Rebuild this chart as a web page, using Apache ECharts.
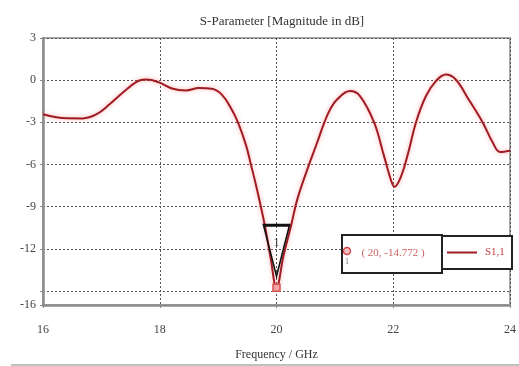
<!DOCTYPE html>
<html>
<head>
<meta charset="utf-8">
<script src="https://cdn.jsdelivr.net/npm/echarts@6/dist/echarts.min.js"></script>
<style>
html,body{margin:0;padding:0;background:#fff;}
#chart{width:519px;height:366px;}
</style>
</head>
<body>
<div id="chart"></div>
<script>
// ---- data ----
var TITLE = 'S-Parameter [Magnitude in dB]';
var X_NAME = 'Frequency / GHz';
var SERIES_NAME = 'S1,1';
var X_TICKS = [16, 18, 20, 22, 24];
var Y_LABELS = [3, 0, -3, -6, -9, -12, -16];
var Y_TICKS = [3, 0, -3, -6, -9, -12, -15, -16];
var FREQ = [16.0, 16.41, 16.68, 16.92, 17.14, 17.43, 17.65, 17.78, 17.99, 18.21, 18.45, 18.67, 18.89, 19.06, 19.23, 19.34, 19.48, 19.56, 19.65, 19.8, 19.9, 20.0, 20.12, 20.25, 20.36, 20.56, 20.7, 20.82, 20.92, 21.04, 21.26, 21.43, 21.67, 21.84, 21.97, 22.02, 22.14, 22.26, 22.39, 22.56, 22.73, 22.9, 23.07, 23.29, 23.53, 23.7, 23.83, 24.0];
var S11  = [-2.42, -2.71, -2.72, -2.42, -1.72, -0.66, -0.02, 0.05, -0.16, -0.59, -0.73, -0.56, -0.61, -1.01, -2.07, -3.01, -4.66, -5.98, -7.49, -10.34, -12.67, -14.772, -12.5, -10.34, -8.43, -5.98, -4.4, -3.01, -2.07, -1.36, -0.78, -1.13, -2.99, -5.37, -7.23, -7.58, -6.78, -5.11, -2.99, -1.13, -0.07, 0.40, 0.05, -1.36, -2.99, -4.40, -5.11, -5.02];
var MARKER_ID = '1';
var MARKER_F = 20;
var MARKER_V = -14.772;

var SERIF = '"Liberation Serif","DejaVu Serif",serif';
var RED = '#a01c24';

var points = FREQ.map(function (f, i) { return [f, S11[i]]; });

var chart = echarts.init(document.getElementById('chart'), null, {renderer: 'canvas'});
chart.setOption({
  animation: false,
  backgroundColor: '#fff',
  title: {
    text: TITLE, left: 277, top: 10, textAlign: 'center',
    textStyle: {fontFamily: SERIF, fontSize: 13, fontWeight: 'normal', color: '#333'}
  },
  grid: {left: 43, right: 5, top: 38, bottom: 59, show: true, borderColor: '#a8a8a8', borderWidth: 2, backgroundColor: 'transparent'},
  xAxis: {
    type: 'value', min: 16, max: 24, interval: 2,
    name: X_NAME, nameLocation: 'middle', nameGap: 44,
    nameTextStyle: {fontFamily: SERIF, fontSize: 12, color: '#333'},
    axisLine: {show: true, onZero: false, lineStyle: {color: '#8c8c8c', width: 2.5}},
    axisTick: {show: true, length: 3, lineStyle: {color: '#888'}, customValues: X_TICKS},
    axisLabel: {margin: 19, fontFamily: SERIF, fontSize: 12, color: '#444', customValues: X_TICKS},
    splitLine: {show: true, lineStyle: {color: '#555', type: [2, 2], width: 1}}
  },
  yAxis: {
    type: 'value', min: -16, max: 3,
    axisLine: {show: true, onZero: false, lineStyle: {color: '#8c8c8c', width: 2.5}},
    axisTick: {show: true, length: 3, lineStyle: {color: '#888'}, customValues: Y_TICKS},
    axisLabel: {margin: 7, fontFamily: SERIF, fontSize: 12, color: '#444', customValues: Y_LABELS},
    splitLine: {show: true, lineStyle: {color: '#555', type: [2, 2], width: 1}}
  },
  legend: {
    left: 447, top: 247, padding: 0, z: 30,
    icon: 'rect', itemWidth: 30, itemHeight: 2, itemGap: 4,
    textStyle: {fontFamily: SERIF, fontSize: 11, color: '#c23a3a', padding: [0, 0, 0, 3]},
    data: [SERIES_NAME]
  },
  series: [{
    name: SERIES_NAME, type: 'line', data: points,
    smooth: 0.4, symbol: 'none',
    lineStyle: {color: RED, width: 2, shadowColor: 'rgba(255,110,110,0.6)', shadowBlur: 4},
    itemStyle: {color: RED},
    markPoint: {
      silent: true,
      data: [
        {coord: [MARKER_F, MARKER_V], symbol: 'triangle', symbolRotate: 180, symbolSize: [26, 51], symbolOffset: [0, -37],
         itemStyle: {color: 'rgba(255,255,255,0)', borderColor: '#111', borderWidth: 2}, label: {show: false}},
        {coord: [MARKER_F, MARKER_V], symbol: 'rect', symbolSize: 7,
         itemStyle: {color: '#f3a3a3', borderColor: '#d9534f', borderWidth: 1.5}, label: {show: false}}
      ]
    }
  }]
});
// marker id label inside the triangle, placed from the marker's data position
var mp = chart.convertToPixel({gridIndex: 0}, [MARKER_F, MARKER_V]);
chart.setOption({
  graphic: [
    {type: 'rect', shape: {x: 342, y: 235, width: 100, height: 38}, style: {fill: '#fff', stroke: '#222', lineWidth: 2}, z: 10},
    {type: 'rect', shape: {x: 442, y: 236, width: 70, height: 33}, style: {fill: '#fff', stroke: '#222', lineWidth: 2}, z: 9},
    {type: 'circle', shape: {cx: 347, cy: 251, r: 3.5}, style: {fill: '#f7c0c0', stroke: '#d04848', lineWidth: 1.5}, z: 11},
    {type: 'text', x: 347, y: 262, style: {text: MARKER_ID, fontFamily: SERIF, fontSize: 8, fill: '#777', align: 'center', verticalAlign: 'middle'}, z: 11},
    {type: 'text', x: 393, y: 253, style: {text: '( ' + MARKER_F + ', ' + MARKER_V + ' )', fontFamily: SERIF, fontSize: 11, fill: '#d06060', align: 'center', verticalAlign: 'middle'}, z: 11},
    {type: 'line', shape: {x1: 11, y1: 365, x2: 519, y2: 365}, style: {stroke: '#c0c0c0', lineWidth: 2}},
    {type: 'text', x: mp[0], y: mp[1] - 45, style: {text: MARKER_ID, fontFamily: SERIF, fontSize: 12, fill: '#333', align: 'center', verticalAlign: 'middle'}, z: 50}
  ]
});
</script>
</body>
</html>
